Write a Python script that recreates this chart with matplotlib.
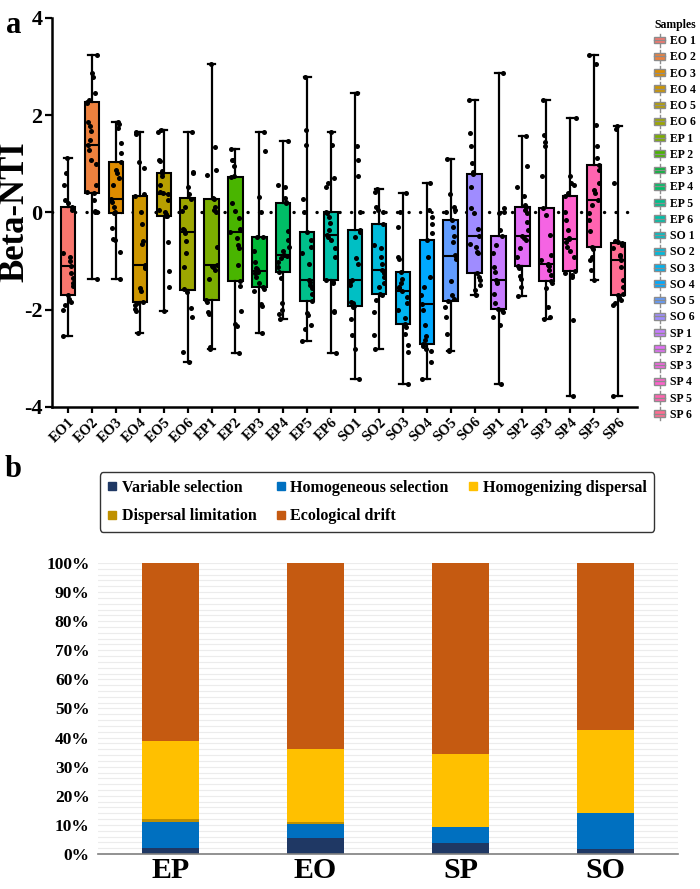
import numpy as np
import matplotlib
matplotlib.use('Agg')
import matplotlib.pyplot as plt
from matplotlib.patches import Patch, Rectangle
from matplotlib.lines import Line2D
from matplotlib.legend_handler import HandlerBase
from matplotlib.ticker import MultipleLocator, FuncFormatter

plt.rcParams['font.family'] = ['Liberation Serif', 'DejaVu Serif']
plt.rcParams['font.weight'] = 'bold'
plt.rcParams['axes.unicode_minus'] = False

# ---- panel a: Beta-NTI per sample ----
sample_names = ['EO1', 'EO2', 'EO3', 'EO4', 'EO5', 'EO6',
                'EP1', 'EP2', 'EP3', 'EP4', 'EP5', 'EP6',
                'SO1', 'SO2', 'SO3', 'SO4', 'SO5', 'SO6',
                'SP1', 'SP2', 'SP3', 'SP4', 'SP5', 'SP6']
legend_names = [n[:2] + ' ' + n[2:] for n in sample_names]

eo1 = [-2.53, -2.0, -1.91, -1.85, -1.78, -1.70, -1.51, -1.46, -1.34, -1.25, -1.10,
       -1.0, -0.91, -0.84, 0.05, 0.12, 0.2, 0.26, 0.57, 0.82, 1.13]
eo2 = [-1.36, 0.0, 0.0, 0.02, 0.26, 0.40, 0.42, 0.57, 1.0, 1.08, 1.29, 1.39,
       1.49, 1.67, 1.77, 1.87, 2.26, 2.28, 2.32, 2.46, 2.79, 2.86, 3.23]
eo3 = [-1.36, -0.81, -0.57, -0.55, -0.31, -0.02, 0.0, 0.12, 0.22, 0.26, 0.28,
       0.57, 0.70, 0.81, 0.88, 1.03, 1.22, 1.43, 1.74, 1.82, 1.87]
eo4 = [-2.47, -2.02, -1.98, -1.91, -1.87, -1.84, -1.61, -1.56, -1.15, -1.12, -1.08,
       -0.64, -0.58, -0.24, 0.0, 0.33, 0.38, 0.91, 1.03, 1.62, 1.65]
eo5 = [-2.03, -1.54, -1.20, -0.60, -0.08, -0.07, -0.04, 0.0, 0.05, 0.26, 0.38,
       0.40, 0.43, 0.57, 0.74, 0.82, 0.85, 1.05, 1.08, 1.65, 1.69]
eo6 = [-3.07, -2.87, -2.15, -1.96, -1.63, -1.58, -1.12, -0.84, -0.58, -0.43,
       -0.36, -0.33, 0.02, 0.12, 0.28, 0.38, 0.53, 0.81, 0.84, 1.65]
ep1 = [-2.80, -2.77, -2.08, -2.04, -1.84, -1.80, -1.36, -1.19, -1.12, -1.10, -1.07,
       -0.72, 0.0, 0.05, 0.12, 0.27, 0.30, 0.77, 0.88, 1.34, 3.05]
ep2 = [-2.89, -2.34, -2.30, -2.02, -1.52, -1.41, -1.08, -0.74, -0.67, -0.53, -0.41,
       -0.33, -0.12, 0.02, 0.19, 0.72, 0.76, 0.95, 1.07, 1.08, 1.31]
ep3 = [-2.47, -1.93, -1.89, -1.61, -1.58, -1.53, -1.46, -1.32, -1.25, -1.22, -1.20,
       -1.17, -1.15, -1.01, -0.79, -0.51, -0.50, 0.0, 0.31, 1.27, 1.65]
ep4 = [-2.20, -2.08, -2.0, -1.87, -1.34, -1.23, -1.12, -1.01, -0.94, -0.90, -0.88,
       -0.79, -0.70, -0.57, -0.38, 0.20, 0.22, 0.29, 0.52, 0.57, 1.48]
ep5 = [-2.64, -2.39, -2.32, -2.11, -2.07, -1.82, -1.67, -1.55, -1.49, -1.42, -1.38,
       -1.05, -0.84, -0.70, -0.57, -0.41, 0.0, 0.28, 1.38, 1.69, 2.79]
ep6 = [-2.89, -2.04, -2.02, -1.46, -1.42, -1.39, -0.91, -0.74, -0.57, -0.50, -0.46,
       -0.36, -0.21, -0.09, -0.02, 0.0, 0.53, 0.61, 0.70, 1.39, 1.65]
so1 = [-3.43, -2.81, -2.51, -2.20, -1.95, -1.93, -1.87, -1.84, -1.49, -1.42, -1.38,
       -1.05, -0.93, -0.50, -0.40, -0.36, 0.0, 0.74, 1.07, 1.36, 2.46]
so2 = [-2.81, -2.51, -2.04, -1.80, -1.70, -1.67, -1.53, -1.46, -1.32, -1.25, -1.19,
       -1.05, -0.91, -0.74, -0.67, -0.24, 0.0, 0.05, 0.12, 0.43, 0.48]
so3 = [-3.52, -2.87, -2.73, -2.50, -2.36, -2.29, -2.18, -2.01, -1.87, -1.74, -1.61,
       -1.55, -1.53, -1.45, -1.36, -1.22, -0.95, -0.91, -0.30, 0.0, 0.41]
so4 = [-3.43, -3.07, -2.85, -2.80, -2.75, -2.71, -2.63, -2.53, -2.32, -2.01, -1.89,
       -1.70, -1.53, -1.32, -0.91, -0.57, -0.43, -0.24, -0.09, 0.05, 0.60]
so5 = [-2.85, -2.82, -2.49, -2.15, -1.94, -1.82, -1.77, -1.70, -1.40, -0.95, -0.90,
       -0.88, -0.60, -0.48, -0.30, -0.15, 0.0, 0.05, 0.12, 0.37, 1.10]
so6 = [-1.70, -1.60, -1.49, -1.39, -1.32, -1.25, -0.84, -0.81, -0.70, -0.64, -0.48,
       -0.33, -0.02, 0.09, 0.52, 0.79, 0.84, 1.01, 1.36, 1.63, 2.32]
sp1 = [-3.52, -2.32, -2.15, -2.05, -2.00, -1.98, -1.87, -1.67, -1.46, -1.42, -1.39,
       -1.22, -1.12, -0.84, -0.67, -0.48, -0.36, -0.02, 0.0, 0.09, 2.86]
sp2 = [-1.72, -1.54, -1.36, -1.30, -1.15, -1.10, -0.91, -0.74, -0.57, -0.52, -0.48,
       -0.36, -0.19, -0.02, 0.05, 0.12, 0.15, 0.33, 0.53, 0.96, 1.58]
sp3 = [-2.20, -2.15, -1.94, -1.56, -1.46, -1.41, -1.29, -1.19, -1.10, -1.08, -1.06,
       -0.98, -0.88, -0.46, -0.05, 0.09, 0.74, 1.36, 1.45, 1.60, 2.32]
sp4 = [-3.78, -2.22, -1.32, -1.29, -1.25, -1.20, -0.91, -0.80, -0.70, -0.60, -0.55,
       -0.53, -0.36, -0.15, 0.0, 0.33, 0.40, 0.57, 0.60, 0.74, 1.94]
sp5 = [-1.38, -1.19, -0.98, -0.91, -0.75, -0.70, -0.39, -0.15, -0.02, 0.15, 0.26,
       0.40, 0.46, 0.60, 0.88, 0.97, 1.12, 1.36, 1.80, 3.06, 3.23]
sp6 = [-3.78, -1.91, -1.87, -1.80, -1.74, -1.70, -1.67, -1.53, -1.39, -1.12, -0.98,
       -0.90, -0.88, -0.74, -0.67, -0.62, -0.60, -0.58, 0.61, 1.72, 1.77]

samples = [eo1, eo2, eo3, eo4, eo5, eo6, ep1, ep2, ep3, ep4, ep5, ep6,
           so1, so2, so3, so4, so5, so6, sp1, sp2, sp3, sp4, sp5, sp6]

# ---- panel b: assembly processes (%) ----
stages = ['EP', 'EO', 'SP', 'SO']
variable_selection = [1.9, 5.6, 3.7, 1.8]
homogeneous_selection = [9.2, 4.6, 5.5, 12.2]
dispersal_limitation = [0.9, 0.8, 0.0, 0.0]
homogenizing_dispersal = [26.9, 25.1, 25.2, 28.7]
ecological_drift = [61.1, 63.9, 65.6, 57.3]


def hue_colour(h, c=100, l=65):
    # ggplot-style HCL (polar Luv) -> sRGB
    hr = np.deg2rad(h)
    u, v = c * np.cos(hr), c * np.sin(hr)
    xn, yn, zn = 95.047, 100.0, 108.883
    y = yn * ((l + 16) / 116) ** 3
    d = xn + 15 * yn + 3 * zn
    up = u / (13 * l) + 4 * xn / d
    vp = v / (13 * l) + 9 * yn / d
    x = y * 9 * up / (4 * vp)
    z = y * (12 - 3 * up - 20 * vp) / (4 * vp)
    m = np.array([[3.2404542, -1.5371385, -0.4985314],
                  [-0.9692660, 1.8760108, 0.0415560],
                  [0.0556434, -0.2040259, 1.0572252]])
    rgb = np.clip(m @ (np.array([x, y, z]) / 100), 0, 1)
    rgb = np.where(rgb <= 0.0031308, 12.92 * rgb, 1.055 * rgb ** (1 / 2.4) - 0.055)
    return tuple(np.clip(rgb, 0, 1))


colours = [hue_colour(15 + 15 * i) for i in range(len(samples))]


class BoxIcon(HandlerBase):
    def create_artists(self, legend, orig_handle, xdescent, ydescent,
                       width, height, fontsize, trans):
        x0, y0 = -xdescent, -ydescent
        cx, cy = x0 + width / 2, y0 + height / 2
        stem = Line2D([cx, cx], [y0 - 2, y0 + height + 2], color='#8c8c8c', lw=1)
        box = Rectangle((x0, y0 + height * 0.05), width, height * 0.9,
                        facecolor=orig_handle.get_facecolor(), edgecolor='#8c8c8c', lw=1)
        mid = Line2D([x0, x0 + width], [cy, cy], color='#8c8c8c', lw=1)
        for a in (stem, box, mid):
            a.set_transform(trans)
        return [stem, box, mid]


fig = plt.figure(figsize=(7, 8.89), dpi=100)

# ---------- panel a ----------
ax1 = fig.add_axes([0.0743, 0.5422, 0.836, 0.4376])
pos = np.arange(len(samples))
ax1.plot([-0.67, 23.8], [0, 0], color='black', lw=2.4,
         dashes=(0.05, 3.4), dash_capstyle='round', zorder=1)
bp = ax1.boxplot(samples, positions=pos, widths=0.6, whis=(0, 100),
                 patch_artist=True, showfliers=False, capwidths=0.3,
                 medianprops=dict(color='black', lw=1.5),
                 whiskerprops=dict(color='black', lw=1.6),
                 capprops=dict(color='black', lw=1.6),
                 boxprops=dict(edgecolor='black', lw=1.5), zorder=2)
for patch, col in zip(bp['boxes'], colours):
    patch.set_facecolor(col)

jitter = [-0.2, 0.13, -0.05, 0.21, -0.14, 0.05, 0.18, -0.22, 0.09, -0.09, 0.2,
          -0.17, 0.0, 0.16, -0.11, 0.07, -0.16, 0.11, -0.07, 0.22, -0.02, 0.14, -0.21]
for i, vals in enumerate(samples):
    xs = [i + jitter[(k * 7 + i * 3) % len(jitter)] for k in range(len(vals))]
    ax1.scatter(xs, vals, s=13, color='black', zorder=3, linewidths=0)

ax1.set_xlim(-0.67, 23.8)
ax1.set_ylim(-4, 4)
ax1.set_yticks([-4, -2, 0, 2, 4])
ax1.set_xticks(pos)
ax1.set_xticklabels(sample_names, rotation=45, ha='right', rotation_mode='anchor',
                    fontsize=10.5, fontweight='bold')
ax1.tick_params(axis='y', labelsize=16, width=1.6, length=5, pad=2)
ax1.tick_params(axis='x', width=1.6, length=4, pad=2)
for s in ['top', 'right']:
    ax1.spines[s].set_visible(False)
for s in ['left', 'bottom']:
    ax1.spines[s].set_linewidth(1.8)
fig.text(15 / 700, 1 - 212 / 889, 'Beta-NTI', fontsize=25, fontweight='bold',
         rotation=90, ha='center', va='center')

handles = [Patch(facecolor=c) for c in colours]
leg1 = fig.legend(handles, legend_names, handler_map={Patch: BoxIcon()},
                  title='Samples', loc='upper left',
                  bbox_to_anchor=(0.928, 0.984), frameon=False,
                  prop=dict(size=8.5, weight='bold'), title_fontproperties=dict(size=8.5, weight='bold'),
                  handlelength=0.9, handleheight=0.6, handletextpad=0.4,
                  labelspacing=0.36, borderaxespad=0)
leg1._legend_box.align = 'left'

fig.text(0.008, 0.988, 'a', fontsize=22, fontweight='bold', va='top')
fig.text(0.006, 0.472, 'b', fontsize=22, fontweight='bold', va='center')

# ---------- panel b ----------
ax2 = fig.add_axes([0.14, 0.0394, 0.8286, 0.3273])
bx = np.arange(len(stages)) + 0.5
layers = [
    ('Variable selection', variable_selection, '#1f3864'),
    ('Homogeneous selection', homogeneous_selection, '#0070c0'),
    ('Dispersal limitation', dispersal_limitation, '#bf9000'),
    ('Homogenizing dispersal', homogenizing_dispersal, '#ffc000'),
    ('Ecological drift', ecological_drift, '#c55a11'),
]
bottom = np.zeros(len(stages))
for name, vals, col in layers:
    ax2.bar(bx, vals, width=0.39, bottom=bottom, color=col, zorder=2, label=name)
    bottom += np.array(vals)

ax2.set_xlim(0, 4)
ax2.set_ylim(0, 100)
ax2.yaxis.set_major_locator(MultipleLocator(10))
ax2.yaxis.set_minor_locator(MultipleLocator(2))
ax2.yaxis.set_major_formatter(FuncFormatter(lambda v, p: f'{v:.0f}%'))
ax2.grid(axis='y', which='both', color='#ececec', lw=0.8, zorder=0)
ax2.tick_params(axis='y', which='both', length=0, labelsize=12.5, pad=6)
ax2.tick_params(axis='x', length=0, labelsize=21.5, pad=2)
ax2.set_xticks(bx)
ax2.set_xticklabels(stages, fontweight='bold')
for s in ['top', 'right', 'left']:
    ax2.spines[s].set_visible(False)
ax2.spines['bottom'].set_color('#7f7f7f')
ax2.spines['bottom'].set_linewidth(1.2)

cols = {name: col for name, _, col in layers}
order = ['Variable selection', 'Dispersal limitation', 'Homogeneous selection',
         'Ecological drift', 'Homogenizing dispersal']
lh = [Line2D([], [], marker='s', ls='none', markersize=6, color=cols[n]) for n in order]
fig.legend(lh, order, loc='center', ncol=3, mode='expand',
           bbox_to_anchor=(92 / 700, 1 - 532 / 889, 570 / 700, 60 / 889),
           prop=dict(size=11.5, weight='bold'), frameon=True, fancybox=True,
           edgecolor='black', handlelength=0.6, handletextpad=0.3,
           labelspacing=0.8, borderpad=0.45, columnspacing=1.0).get_frame().set_linewidth(1.0)

fig.savefig('out.png', dpi=100)
